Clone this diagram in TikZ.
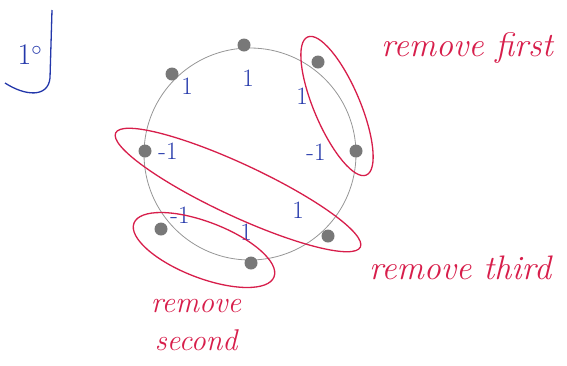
\documentclass[tikz,border=0pt]{standalone}
\usepackage{xcolor}
\usepackage{tikz}
\usetikzlibrary{shapes.geometric, positioning}
\definecolor{pen}{RGB}{35, 55, 170}
\definecolor{marker}{RGB}{215, 30, 75}
\definecolor{pencil}{RGB}{150, 150, 150}
\definecolor{dotgray}{RGB}{120, 120, 120}
\tikzset{
    site/.style={circle, fill=dotgray, inner sep=0pt, minimum size=13pt},
    spin/.style={font=\fontsize{25}{27}\selectfont, text=pen},
    removal/.style={ellipse, draw=marker, line width=1.3pt},
    note/.style={font=\fontsize{34}{36}\selectfont\itshape, text=marker, align=center}
}

\begin{document}
\begin{tikzpicture}[x=1pt, y=-1pt]

    \useasboundingbox (0,0) rectangle (567,365);

    % Ring
    \node (ring) [circle, draw=pencil, thick, minimum size=212pt] at (250,154) {};

    % Sites
    \node (top)   [site] at (244,45)  {};
    \node (upl)   [site] at (172,74)  {};
    \node (upr)   [site] at (318,62)  {};
    \node (left)  [site] at (145,151) {};
    \node (right) [site] at (356,151) {};
    \node (lowl)  [site] at (161,229) {};
    \node (bot)   [site] at (251,263) {};
    \node (lowr)  [site] at (328,236) {};

    % Spins
    \node (s1) [spin] at (187,86)  {1};
    \node (s2) [spin] at (248,78)  {1};
    \node (s3) [spin] at (302,96)  {1};
    \node (s4) [spin] at (168,151) {-1};
    \node (s5) [spin] at (316,152) {-1};
    \node (s6) [spin] at (180,215) {-1};
    \node (s7) [spin] at (246,232) {1};
    \node (s8) [spin] at (298,210) {1};

    % Removals
    \node (first)  [removal, minimum width=150pt, minimum height=46pt, rotate=-67] at (337,106) {};
    \node (third)  [removal, minimum width=270pt, minimum height=52pt, rotate=-25] at (238,190) {};
    \node (second) [removal, minimum width=150pt, minimum height=56pt, rotate=-21] at (204,250) {};

    % Labels
    \node (lfirst)  [note] at (467,48)  {remove first};
    \node (lthird)  [note] at (460,268) {remove third};
    \node (lsecond) [note, font=\fontsize{30}{38}\selectfont\itshape] at (196,325) {remove\\second};

    % Step mark
    \node (step1) [font=\fontsize{30}{32}\selectfont, text=pen] at (30,55) {1$^{\circ}$};
    \coordinate (brtop) at (52,10);
    \coordinate (brend) at (5,83);
    \draw [pen, line width=1.3pt] (brtop) -- (50,78) .. controls (48,98) and (25,96) .. (brend);

\end{tikzpicture}
\end{document}
